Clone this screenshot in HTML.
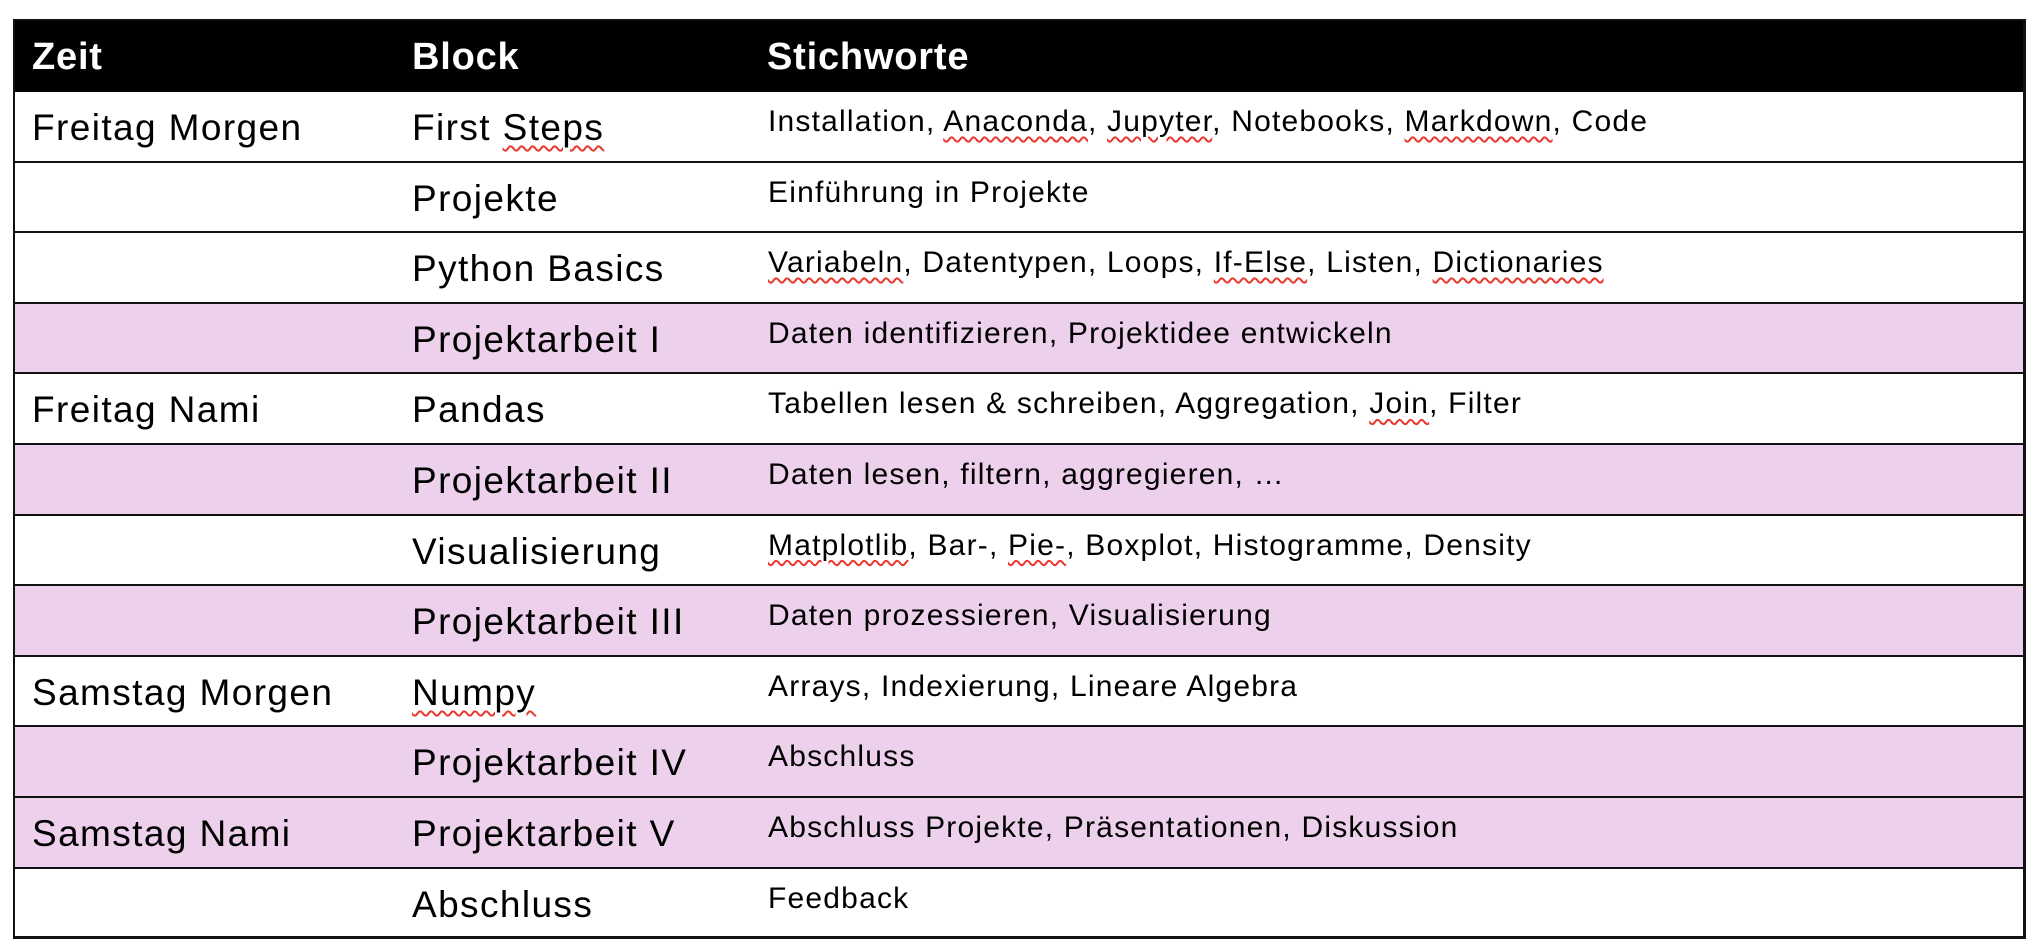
<!DOCTYPE html>
<html><head><meta charset="utf-8"><style>
body{margin:0;width:2036px;height:948px;background:#fff;position:relative;overflow:hidden;font-family:"Liberation Sans",sans-serif;}
.t{position:absolute;white-space:nowrap;line-height:1;color:#000;}
.h{font-weight:bold;font-size:38px;color:#fff;letter-spacing:0.8px;}
.b{font-size:37px;letter-spacing:1.4px;}
.s{font-size:30px;letter-spacing:1.2px;}
.r{position:absolute;left:13px;width:2013px;box-sizing:border-box;border-bottom:2.5px solid #111;}
.p{background:#edd1ec;}
u{text-decoration:underline wavy #e8392f;text-decoration-thickness:1.5px;text-underline-offset:5px;}
</style></head><body>
<div style="position:absolute;left:13px;top:19px;width:2013px;height:73px;background:#000;"></div>
<div class="t h" style="left:32px;top:38px">Zeit</div>
<div class="t h" style="left:412px;top:38px">Block</div>
<div class="t h" style="left:767px;top:38px">Stichworte</div>

<div class="r" style="top:92px;height:70.6px"></div>
<div class="r" style="top:162.6px;height:70.6px"></div>
<div class="r" style="top:233.2px;height:70.6px"></div>
<div class="r p" style="top:303.8px;height:70.6px"></div>
<div class="r" style="top:374.4px;height:70.6px"></div>
<div class="r p" style="top:445px;height:70.6px"></div>
<div class="r" style="top:515.6px;height:70.6px"></div>
<div class="r p" style="top:586.2px;height:70.6px"></div>
<div class="r" style="top:656.8px;height:70.6px"></div>
<div class="r p" style="top:727.4px;height:70.6px"></div>
<div class="r p" style="top:798px;height:70.6px"></div>
<div class="r" style="top:868.6px;height:70.4px;border-bottom:none"></div>
<div style="position:absolute;left:13px;top:19px;width:2013px;height:920px;box-sizing:border-box;border:2px solid #111;border-right-width:3px;border-bottom-width:3px;"></div>

<div class="t b" style="left:32px;top:109px">Freitag Morgen</div>
<div class="t b" style="left:412px;top:109px">First <u>Steps</u></div>
<div class="t s" style="left:768px;top:107px">Installation, <u>Anaconda</u>, <u>Jupyter</u>, Notebooks, <u>Markdown</u>, Code</div>

<div class="t b" style="left:412px;top:179.6px">Projekte</div>
<div class="t s" style="left:768px;top:177.6px">Einführung in Projekte</div>

<div class="t b" style="left:412px;top:250.2px">Python Basics</div>
<div class="t s" style="left:768px;top:248.2px"><u>Variabeln</u>, Datentypen, Loops, <u>If-Else</u>, Listen, <u>Dictionaries</u></div>

<div class="t b" style="left:412px;top:320.8px">Projektarbeit I</div>
<div class="t s" style="left:768px;top:318.8px">Daten identifizieren, Projektidee entwickeln</div>

<div class="t b" style="left:32px;top:391.4px">Freitag Nami</div>
<div class="t b" style="left:412px;top:391.4px">Pandas</div>
<div class="t s" style="left:768px;top:389.4px">Tabellen lesen &amp; schreiben, Aggregation, <u>Join</u>, Filter</div>

<div class="t b" style="left:412px;top:462px">Projektarbeit II</div>
<div class="t s" style="left:768px;top:460px">Daten lesen, filtern, aggregieren, …</div>

<div class="t b" style="left:412px;top:532.6px">Visualisierung</div>
<div class="t s" style="left:768px;top:530.6px"><u>Matplotlib</u>, Bar-, <u>Pie-</u>, Boxplot, Histogramme, Density</div>

<div class="t b" style="left:412px;top:603.2px">Projektarbeit III</div>
<div class="t s" style="left:768px;top:601.2px">Daten prozessieren, Visualisierung</div>

<div class="t b" style="left:32px;top:673.8px">Samstag Morgen</div>
<div class="t b" style="left:412px;top:673.8px"><u>Numpy</u></div>
<div class="t s" style="left:768px;top:671.8px">Arrays, Indexierung, Lineare Algebra</div>

<div class="t b" style="left:412px;top:744.4px">Projektarbeit IV</div>
<div class="t s" style="left:768px;top:742.4px">Abschluss</div>

<div class="t b" style="left:32px;top:815px">Samstag Nami</div>
<div class="t b" style="left:412px;top:815px">Projektarbeit V</div>
<div class="t s" style="left:768px;top:813px">Abschluss Projekte, Präsentationen, Diskussion</div>

<div class="t b" style="left:412px;top:885.6px">Abschluss</div>
<div class="t s" style="left:768px;top:883.6px">Feedback</div>
</body></html>
